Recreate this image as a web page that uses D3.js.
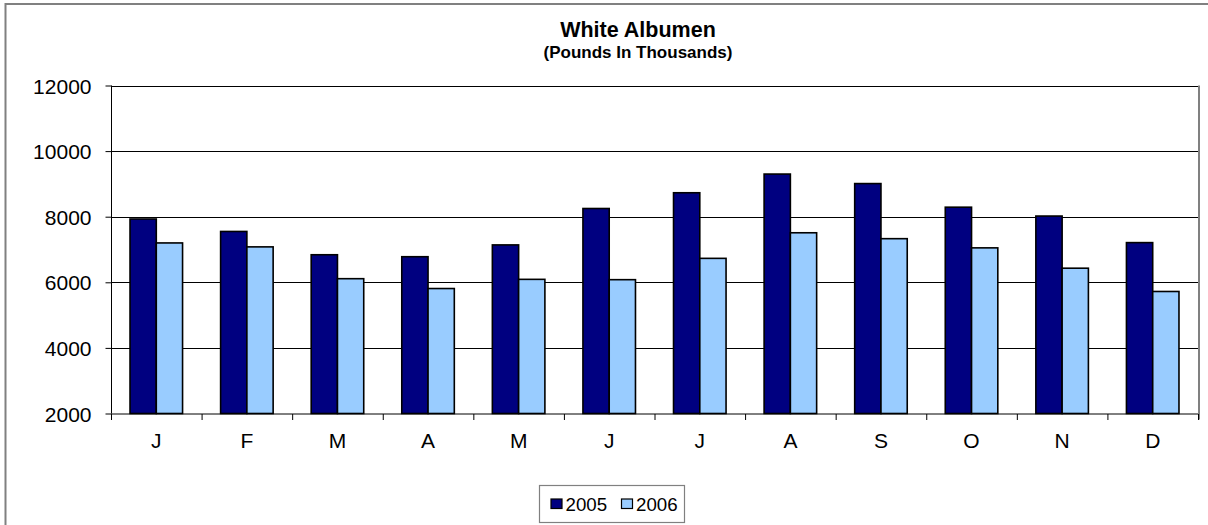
<!DOCTYPE html>
<html><head><meta charset="utf-8">
<script src="https://cdn.jsdelivr.net/npm/d3@7"></script>
<style>html,body{margin:0;padding:0;background:#fff;overflow:hidden;}svg{display:block;font-family:Arial,"Liberation Sans",sans-serif;}</style>
</head><body>
<svg id="c" width="1208" height="525"></svg>
<script>
const months = ["J","F","M","A","M","J","J","A","S","O","N","D"];
const seriesNames = ["2005","2006"];
const values2005 = [7930,7550,6840,6780,7140,8250,8730,9300,9010,8290,8020,7210];
const values2006 = [7200,7080,6110,5810,6090,6080,6730,7510,7330,7050,6430,5720];
const yTicks = [2000,4000,6000,8000,10000,12000];
const colors = ["#000080","#99CCFF"];
const title = "White Albumen";
const subtitle = "(Pounds In Thousands)";

const svg = d3.select("#c");
const L = 111, R = 1198, T = 85.5, B = 413.5;

// outer chart border
svg.append("rect").attr("x",5.5).attr("y",4).attr("width",1220).attr("height",540)
  .attr("fill","#fff").attr("stroke","#808080").attr("stroke-width",2);

const x = d3.scaleBand().domain(d3.range(months.length)).range([L,R]).paddingInner(0.42).paddingOuter(0.21);
const xs = d3.scaleBand().domain(seriesNames).range([0,x.bandwidth()]);
const xEdge = d3.scaleLinear().domain([0,months.length]).range([L,R]);
const y = d3.scaleLinear().domain([2000,12000]).range([B,T]);

// gridlines
svg.append("g").selectAll("line").data(yTicks.slice(1)).join("line")
  .attr("x1",L).attr("x2",R).attr("y1",d=>Math.round(y(d))+0.5).attr("y2",d=>Math.round(y(d))+0.5)
  .attr("stroke","#000").attr("stroke-width",1);
// right border of plot area
svg.append("line").attr("x1",R+1).attr("x2",R+1).attr("y1",T).attr("y2",B+6).attr("stroke","#808080").attr("stroke-width",2);

// bars
const data = months.map((m,i)=>({i, vals:[values2005[i],values2006[i]]}));
const g = svg.append("g");
data.forEach(d=>{
  seriesNames.forEach((s,k)=>{
    g.append("rect")
      .attr("x", x(d.i)+xs(s)).attr("width", xs.bandwidth())
      .attr("y", y(d.vals[k])).attr("height", y(2000)-y(d.vals[k]))
      .attr("fill", colors[k]).attr("stroke","#000").attr("stroke-width",1.6);
  });
});

// y axis
const ya = svg.append("g").attr("transform",`translate(${L+0.5},0)`)
  .call(d3.axisLeft(y).tickValues(yTicks).tickSize(6).tickFormat(d3.format("d")));
ya.select(".domain").attr("stroke","#000").attr("d",`M0,${T}V${B}`);
ya.selectAll(".tick line").attr("stroke","#000");
ya.selectAll(".tick text").attr("font-size","21px").attr("fill","#000").attr("x",-20).attr("dy","0.36em")
  .attr("font-family","Arial, 'Liberation Sans', sans-serif");

// x axis: boundary ticks
const xa = svg.append("g").attr("transform",`translate(0,${B+0.5})`)
  .call(d3.axisBottom(xEdge).tickValues(d3.range(months.length+1)).tickSize(6).tickFormat(""));
xa.select(".domain").attr("stroke","#000").attr("d",`M${L},0H${R}`);
xa.selectAll(".tick line").attr("stroke","#000");
// x labels
const xl = svg.append("g").attr("transform",`translate(0,${B})`)
  .call(d3.axisBottom(x).tickSize(0).tickPadding(0).tickFormat(i=>months[i]));
xl.select(".domain").remove();
xl.selectAll(".tick text").attr("font-size","21px").attr("fill","#000").attr("dy",0).attr("y",34)
  .attr("font-family","Arial, 'Liberation Sans', sans-serif");

// titles
svg.append("text").attr("x",638).attr("y",37).attr("text-anchor","middle")
  .attr("font-size","21.5px").attr("font-weight","bold").text(title);
svg.append("text").attr("x",638).attr("y",57.5).attr("text-anchor","middle")
  .attr("font-size","17px").attr("font-weight","bold").text(subtitle);

// legend
const lg = svg.append("g");
lg.append("rect").attr("x",539.5).attr("y",485.5).attr("width",145).attr("height",37)
  .attr("fill","#fff").attr("stroke","#808080").attr("stroke-width",1.2);
const legX = [551,621.5];
seriesNames.forEach((s,k)=>{
  lg.append("rect").attr("x",legX[k]).attr("y",499).attr("width",11).attr("height",9.5)
    .attr("fill",colors[k]).attr("stroke","#000").attr("stroke-width",1.2);
  lg.append("text").attr("x",legX[k]+14.5).attr("y",510.5).attr("font-size","18.7px").text(s);
});
</script>
</body></html>
